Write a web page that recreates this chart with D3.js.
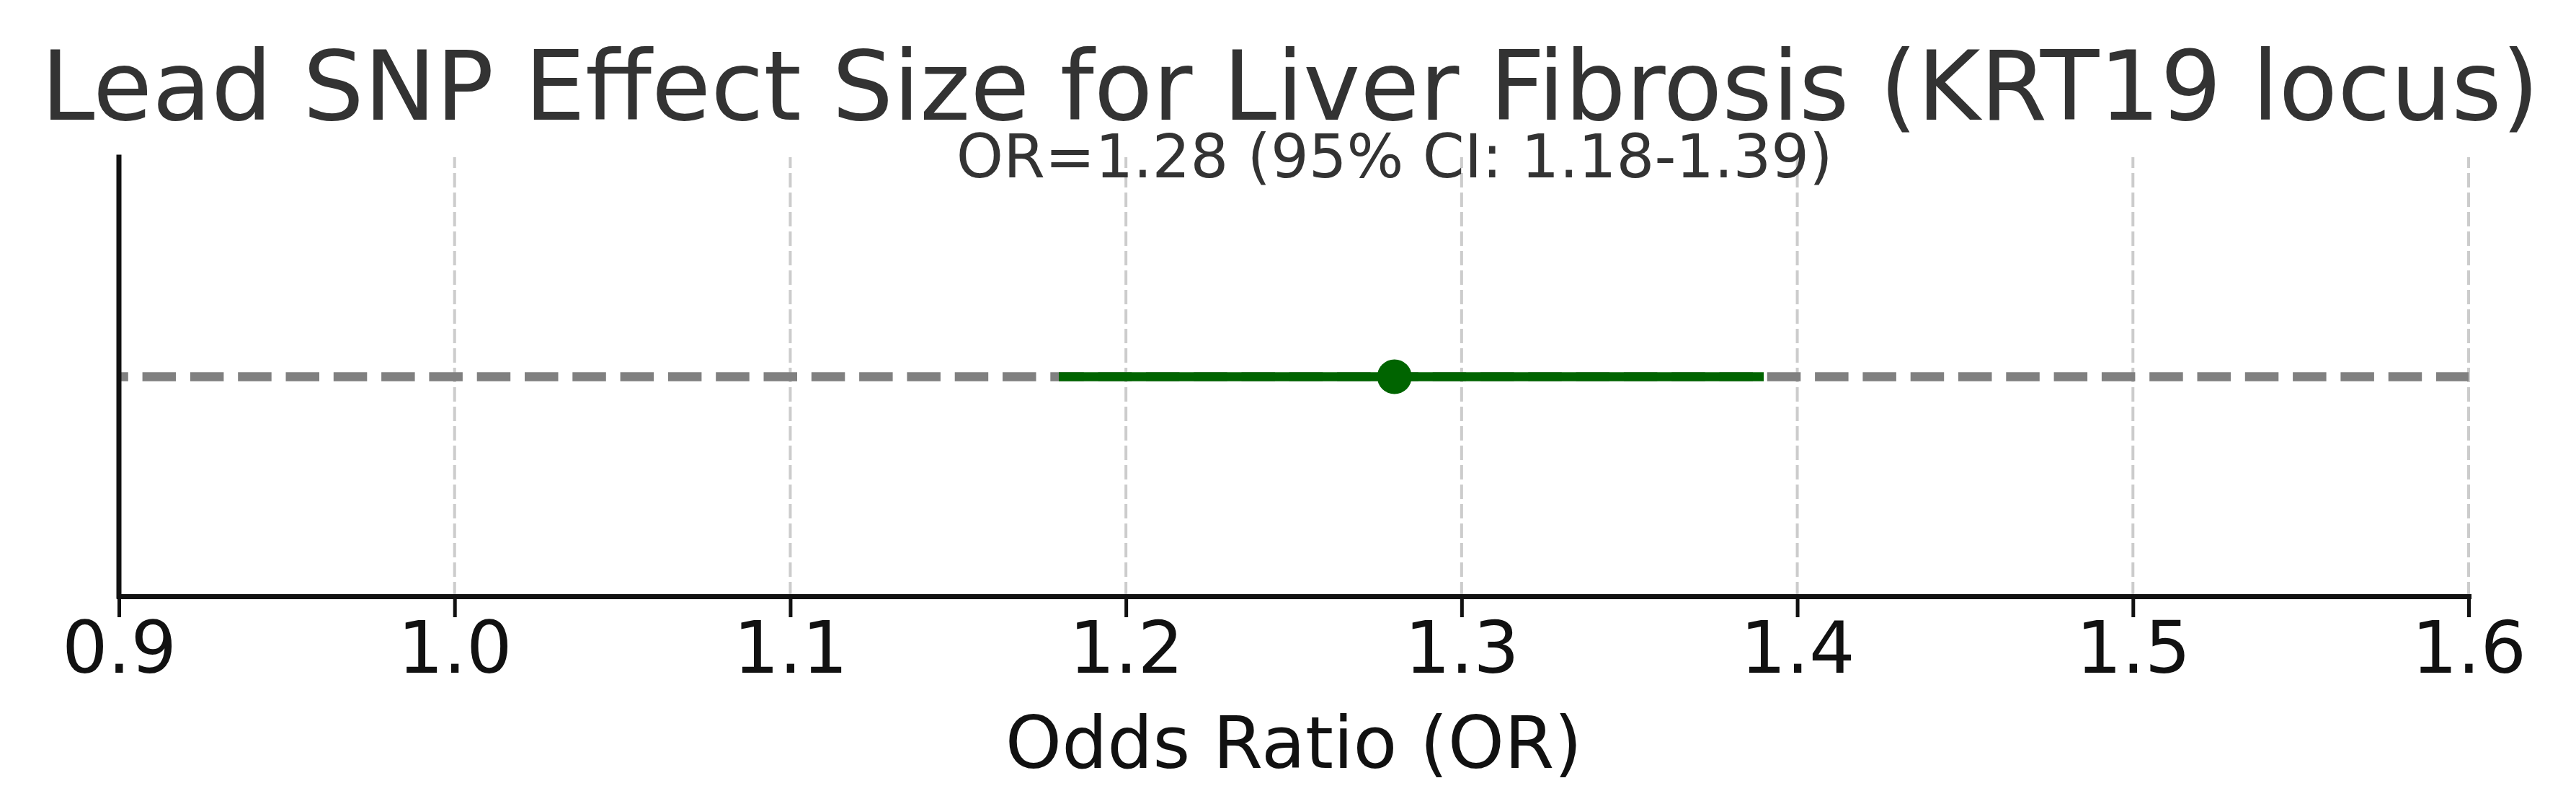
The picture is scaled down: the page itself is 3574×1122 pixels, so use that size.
<!DOCTYPE html>
<meta charset="utf-8">
<style>
  body { margin: 0; background: #fff; }
  text { font-family: "DejaVu Sans", sans-serif; }
</style>
<body>
<script src="https://d3js.org/d3.v7.min.js"></script>
<script>

var width = 3574,
    height = 1122;

// values
var titleText = "Lead SNP Effect Size for Liver Fibrosis (KRT19 locus)";
var orValue = [1.28];
var ciBounds = [1.18, 1.39];
var xDomain = [0.9, 1.6];
var tickValues = [0.9, 1.0, 1.1, 1.2, 1.3, 1.4, 1.5, 1.6];
var xLabel = "Odds Ratio (OR)";

var margin = {top: 218, right: 149, bottom: 295, left: 165};

var x = d3.scaleLinear()
    .domain(xDomain)
    .range([margin.left, width - margin.right]);

var y = d3.scaleLinear()
    .domain([-1, 1])
    .range([height - margin.bottom, margin.top]);

var svg = d3.select("body").append("svg")
    .attr("width", width)
    .attr("height", height);

// vertical grid
svg.append("g").attr("class", "grid")
  .selectAll("line").data(tickValues.slice(1)).enter()
  .append("line")
    .attr("x1", function(d){return x(d)})
    .attr("x2", function(d){return x(d)})
    .attr("y1", y(-1))
    .attr("y2", y(1))
    .attr("stroke", "#cccccc")
    .attr("stroke-width", 4)
    .attr("stroke-dasharray", "20,7");

// reference dashed line across the axes
svg.append("line")
    .attr("x1", x(xDomain[0]))
    .attr("x2", x(xDomain[1]))
    .attr("y1", y(0))
    .attr("y2", y(0))
    .attr("stroke", "#808080")
    .attr("stroke-width", 12.7)
    .attr("stroke-dasharray", "46.5,19.8")
    .attr("stroke-dashoffset", 33.7);

// confidence interval
svg.append("line")
    .attr("x1", x(ciBounds[0]))
    .attr("x2", x(ciBounds[1]))
    .attr("y1", y(0))
    .attr("y2", y(0))
    .attr("stroke", "#006400")
    .attr("stroke-width", 12.7);

svg.selectAll(".point").data(orValue).enter()
  .append("circle").attr("class", "point")
    .attr("cx", function(d){return x(d)})
    .attr("cy", y(0))
    .attr("r", 24)
    .attr("fill", "#006400");

// axes
var xAxis = d3.axisBottom(x)
    .tickValues(tickValues)
    .tickFormat(d3.format(".1f"))
    .tickSize(29)
    .tickSizeOuter(0)
    .tickPadding(6);

var gx = svg.append("g")
    .attr("transform", "translate(0," + y(-1) + ")")
    .call(xAxis);
gx.select(".domain").attr("stroke", "#111").attr("stroke-width", 7).attr("stroke-linecap", "square");
gx.selectAll(".tick line").attr("stroke", "#111").attr("stroke-width", 5);
gx.selectAll(".tick text")
    .attr("fill", "#111")
    .style("font-size", "100px")
    .style("font-family", "'DejaVu Sans', sans-serif");

svg.append("line")
    .attr("x1", x(xDomain[0]))
    .attr("x2", x(xDomain[0]))
    .attr("y1", y(1))
    .attr("y2", y(-1))
    .attr("stroke", "#111")
    .attr("stroke-width", 7)
    .attr("stroke-linecap", "square");

// texts
svg.append("text")
    .attr("x", 1790)
    .attr("y", 166)
    .attr("text-anchor", "middle")
    .attr("fill", "#333")
    .style("font-size", "133.5px")
    .text(titleText);

svg.append("text")
    .attr("x", x(orValue[0]))
    .attr("y", 246)
    .attr("text-anchor", "middle")
    .attr("fill", "#333")
    .style("font-size", "83px")
    .text("OR=" + orValue[0].toFixed(2) + " (95% CI: " + ciBounds[0].toFixed(2) + "-" + ciBounds[1].toFixed(2) + ")");

svg.append("text")
    .attr("x", (x.range()[0] + x.range()[1]) / 2)
    .attr("y", 1065)
    .attr("text-anchor", "middle")
    .attr("fill", "#111")
    .style("font-size", "99.5px")
    .text(xLabel);

</script>
</body>
